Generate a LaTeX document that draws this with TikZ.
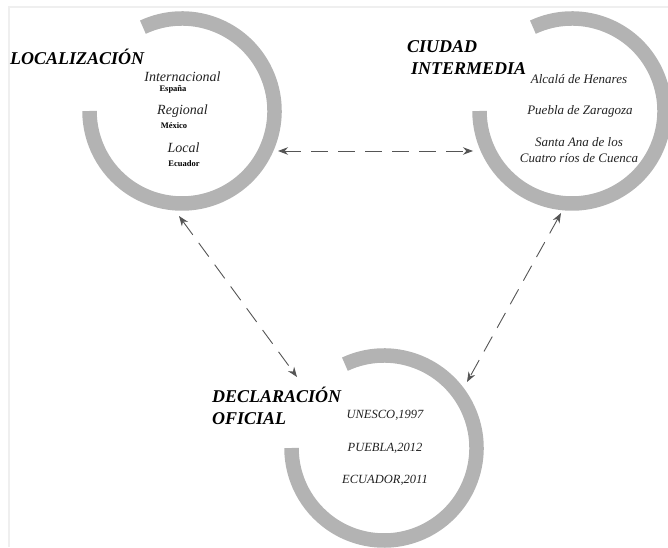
\documentclass[tikz,border=0pt]{standalone}
\usepackage{fontspec}
\setmainfont{Liberation Serif}
\usetikzlibrary{arrows.meta}
\definecolor{ringgray}{HTML}{B3B3B3}
\definecolor{framegray}{HTML}{EFEFEF}
\definecolor{arrowgray}{HTML}{555555}
\definecolor{itemtext}{HTML}{222222}
\tikzset{
  ring/.style={draw=ringgray, line width=14.5pt},
  heading/.style={font=\fontsize{18}{22}\selectfont\bfseries\itshape, align=left, inner sep=0pt, anchor=west},
  item/.style={font=\fontsize{14}{16}\selectfont\itshape, text=itemtext, inner sep=0pt},
  itemb/.style={font=\fontsize{13}{16}\selectfont\itshape, text=itemtext, inner sep=0pt, align=center},
  itemc/.style={font=\fontsize{12.5}{15}\selectfont\itshape, text=itemtext, inner sep=0pt},
  place/.style={font=\fontsize{8.5}{10}\selectfont\bfseries, inner sep=0pt},
  link/.style={draw=arrowgray, line width=0.9pt, dash pattern=on 17pt off 10pt,
    {Stealth[length=10pt,width=7.5pt]}-{Stealth[length=10pt,width=7.5pt]}}
}
\begin{document}
\begin{tikzpicture}[x=1pt,y=1pt]
\useasboundingbox (0,0) rectangle (668,547);
% frame lines
\draw[framegray, line width=2pt] (668,540) -- (9,540) -- (9,0);
% rings
\coordinate (c1) at (182,436);
\coordinate (c2) at (572,436);
\coordinate (c3) at (384,99);
\draw[ring] (c1) ++(115:92.5) arc[start angle=115, end angle=-180, radius=92.5];
\draw[ring] (c2) ++(115:92.5) arc[start angle=115, end angle=-180, radius=92.5];
\draw[ring] (c3) ++(115:92.5) arc[start angle=115, end angle=-180, radius=92.5];
% headings
\node[heading] (h1) at (10,490) {LOCALIZACIÓN};
\node[heading] (h2) at (407,489.5) {CIUDAD\\\hspace*{4pt}INTERMEDIA};
\node[heading] (h3) at (212,141.5) {DECLARACIÓN\\OFICIAL};
% circle 1 items
\node[item] (i1) at (182.5,470) {Internacional};
\node[place] (p1) at (173,458) {España};
\node[item] (i2) at (182.5,436) {Regional};
\node[place] (p2) at (174,421) {México};
\node[item] (i3) at (183.5,399) {Local};
\node[place] (p3) at (184,383) {Ecuador};
% circle 2 items
\node[itemb] (j1) at (579,468) {Alcalá de Henares};
\node[itemb] (j2) at (580,436) {Puebla de Zaragoza};
\node[itemb] (j3) at (579,397) {Santa Ana de los\\Cuatro ríos de Cuenca};
% circle 3 items
\node[itemc] (k1) at (385,132) {UNESCO,1997};
\node[itemc] (k2) at (385,99) {PUEBLA,2012};
\node[itemc] (k3) at (385,67) {ECUADOR,2011};
% connector ends
\coordinate (a1) at (278,396);
\coordinate (a2) at (473,396);
\coordinate (b1) at (179,331);
\coordinate (b2) at (297,170);
\coordinate (d1) at (561,334);
\coordinate (d2) at (467,165);
\draw[link] (a1) -- (a2);
\draw[link] (b1) -- (b2);
\draw[link] (d1) -- (d2);
\end{tikzpicture}
\end{document}
